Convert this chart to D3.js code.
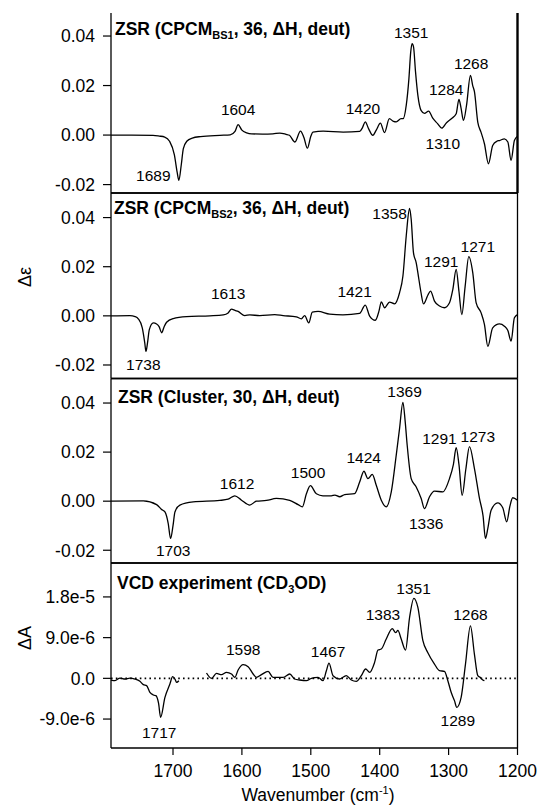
<!DOCTYPE html>
<html>
<head>
<meta charset="utf-8">
<script src="https://cdn.jsdelivr.net/npm/d3@7"></script>
<style>
  body { margin: 0; background: #fff; }
  svg { display: block; font-family: "Liberation Sans", Arial, sans-serif; }
</style>
</head>
<body>
<div id="chart"></div>
<script>
// ---- data ----
var xTicks = [1700, 1600, 1500, 1400, 1300, 1200];

var bs1W = [1790,1760,1729,1720,1712,1705,1698,1694,1691.5,1688,1685,1680,1672,1660,1632,1617,1610,1605.5,1600,1593,1586,1570,1555,1545,1536,1531,1523,1515,1510,1505,1500,1497,1482,1453,1429,1425,1421,1416,1410,1405,1399,1393,1386,1380,1376,1369,1366,1361.5,1357.6,1355,1353,1350.9,1348,1344.6,1340,1335,1329,1323,1316,1310,1303,1296,1289,1285,1282,1278.4,1274,1268.3,1265,1262.5,1257.6,1253,1248,1242.2,1236,1230,1226,1219,1214,1209.3,1204.5,1200];
var bs1D = [0,0,-0.0001,-0.0004,-0.0008,-0.0025,-0.008,-0.015,-0.0183,-0.012,-0.0055,-0.0025,-0.0012,-0.0006,-0.0001,0.0001,0.0015,0.0042,0.002,0.0009,0.0005,0.0004,0.0005,0.0008,0.0003,-0.0001,-0.0028,0.0016,-0.001,-0.0053,-0.0005,0.0012,0.0016,0.0012,0.0015,0.003,0.0053,0.0025,-0.0001,0.002,0.0048,0.001,0.0066,0.0055,0.0053,0.0066,0.0066,0.012,0.0228,0.0335,0.0369,0.0356,0.0255,0.016,0.01,0.0088,0.0097,0.0068,0.0046,0.0028,0.005,0.0066,0.0086,0.0144,0.011,0.0059,0.012,0.0241,0.02,0.0175,0.0051,0.0012,-0.0035,-0.0116,-0.0042,-0.0025,-0.0022,-0.0015,-0.0028,-0.0102,-0.0022,-0.0005];

var bs2W = [1790,1762.5,1755,1750.4,1744.6,1741,1739.3,1737,1734.4,1728.6,1723.8,1720,1716.5,1713,1709.3,1699.7,1680.3,1646.5,1627,1620,1615.1,1610,1605.5,1595.8,1588.6,1574,1552.3,1540.2,1521,1513.7,1508.9,1503,1497.8,1489.5,1472.6,1453.3,1429.2,1421,1414.6,1406.4,1401,1397.7,1392.9,1385.7,1378.4,1371.2,1366.3,1361.5,1356.7,1354.3,1351,1347,1343.1,1340,1336.4,1330,1326.2,1320.5,1313.2,1306,1298.7,1293.9,1289,1285,1280.8,1276,1270.7,1264.9,1260,1252.8,1248,1243.1,1236,1226.2,1219,1214,1209.3,1204.5,1200];
var bs2D = [0,0.0001,-0.0003,-0.0012,-0.0049,-0.011,-0.0145,-0.011,-0.0056,-0.0029,-0.0033,-0.0045,-0.0069,-0.0045,-0.0026,-0.0011,-0.0003,0,0.0004,0.0012,0.0027,0.0022,0.0018,0.0001,0.0004,0.0001,0.0005,0.0001,-0.0004,-0.0012,0.0001,-0.0029,0.0015,0.0018,0.0007,0.0004,0.001,0.0044,-0.0001,-0.0018,0.002,0.0057,0.0033,0.0056,0.0049,0.0094,0.0162,0.0325,0.0437,0.0393,0.0257,0.0216,0.0148,0.0094,0.0049,0.0085,0.0101,0.006,0.004,0.0033,0.0053,0.0107,0.0189,0.01,0.0005,0.012,0.0241,0.0175,0.0053,0.0012,-0.0035,-0.0124,-0.0049,-0.0033,-0.0042,-0.006,-0.0103,-0.0008,0.0005];

var clW = [1790,1743,1723.8,1716.5,1711.7,1707,1703.5,1700,1697.2,1690,1670.7,1632,1620,1610.3,1600.6,1588.6,1578.9,1564.4,1550,1530.6,1518.5,1512.2,1506.4,1500.6,1491.9,1482.3,1470.2,1465,1458.1,1450.9,1436.4,1429.1,1422.9,1417.1,1410.8,1405,1397.7,1390.5,1383.2,1376,1371.2,1366.3,1363,1360.1,1354.3,1347,1339.8,1335,1327.7,1320.5,1308.4,1298.7,1293,1289,1285,1280.3,1275,1269.7,1262.5,1255.2,1250,1246.5,1243,1238.3,1228.7,1221.4,1215.6,1211,1206.9,1200];
var clD = [0,0.0001,-0.0014,-0.0034,-0.0044,-0.009,-0.0152,-0.01,-0.0044,-0.0016,-0.0003,0.0003,0.0008,0.0022,0.0004,-0.0016,0,0.0003,0.0011,0.0003,-0.0014,-0.0023,0.003,0.0063,0.003,0.0022,0.0022,0.0025,0.0018,0.0027,0.0031,0.0078,0.0122,0.0092,0.0109,0.0065,0.0004,-0.0023,0.0038,0.0188,0.0296,0.0403,0.0324,0.0228,0.0092,0.0058,0.0011,-0.003,0.0018,0.0041,0.0038,0.0092,0.015,0.0218,0.015,0.0024,0.013,0.0222,0.0133,0.0011,-0.006,-0.0152,-0.011,-0.0037,-0.0007,-0.0027,-0.0084,-0.002,0.0014,0.0004];

// experimental spectrum, null marks the gap in the trace
var vcdW = [1790,1784.2,1777,1769.7,1762.5,1755.2,1748,1743.1,1738.3,1733.5,1728.6,1724.8,1721,1718,1711.7,1704.5,1700.6,1697.2,1694.8,1691.5,1670,
  1651.4,1644.1,1636.9,1629.6,1622.4,1615.1,1610.3,1605.5,1598.2,1591,1583.7,1578.9,1571.7,1562,1554.8,1547.5,1540.2,1530.6,1523.3,1516.1,1506.4,1499.2,1489.5,1482.3,1477.4,1473.6,1467.8,1458.1,1448.5,1441.2,1434,1426.7,1420.4,1414.6,1407.4,1402.5,1397.7,1390.5,1381.8,1376.9,1373.6,1368.8,1362.5,1356.7,1350.4,1344.6,1337.4,1330.1,1320.5,1313.2,1306,1301.1,1296.3,1291.5,1288.1,1281.8,1275.5,1268.3,1262.5,1257.6,1254.2,1250.4,1248];
var vcdA = [-0.37e-6,-0.52e-6,0.07e-6,-0.15e-6,0.07e-6,-0.15e-6,-0.66e-6,-1.40e-6,-1.62e-6,-3.09e-6,-3.68e-6,-3.83e-6,-5.5e-6,-8.6e-6,-4.2e-6,-1.25e-6,0.37e-6,-0.15e-6,-0.88e-6,-0.52e-6,null,
  1.18e-6,0,1.1e-6,0.81e-6,1.32e-6,0.96e-6,0.22e-6,1.84e-6,3.02e-6,2.58e-6,0.96e-6,0.22e-6,0.81e-6,1.55e-6,0.22e-6,0.22e-6,0.22e-6,0.96e-6,-0.15e-6,-0.37e-6,-0.52e-6,0,0.22e-6,-0.52e-6,1.69e-6,3.38e-6,0.59e-6,-0.15e-6,0.59e-6,-0.37e-6,-0.66e-6,0.59e-6,2.06e-6,1.32e-6,3.53e-6,6.26e-6,6.48e-6,8.69e-6,1.10e-5,1.01e-5,1.06e-5,8.69e-6,6.26e-6,1.34e-5,1.77e-5,1.57e-5,8.39e-6,5.67e-6,3.16e-6,1.69e-6,1.55e-6,-0.52e-6,-3.09e-6,-4.93e-6,-6.41e-6,-4.2e-6,3.16e-6,1.16e-5,5.3e-6,0.59e-6,0.22e-6,-0.37e-6,-0.52e-6];

// peak annotations: label, wavenumber at label centre, value at label centre
var bs1Peaks = [["1351",1354.3,0.0416],["1268",1267.3,0.0288],["1284",1303.5,0.0185],["1420",1424.3,0.0109],["1604",1605.5,0.0104],["1689",1728.6,-0.0163],["1310",1308.4,-0.0035]];
var bs2Peaks = [["1358",1385.7,0.0418],["1271",1257.6,0.0283],["1291",1310.8,0.0223],["1421",1436.4,0.0098],["1613",1620,0.009],["1738",1743.1,-0.0199]];
var clPeaks = [["1369",1363.9,0.0446],["1291",1313.2,0.0256],["1273",1257.6,0.0262],["1424",1423.3,0.0177],["1500",1504,0.0117],["1612",1607,0.0072],["1703",1699.7,-0.02],["1336",1332.5,-0.0091]];
var vcdPeaks = [["1351",1350.9,1.99e-5],["1268",1268.3,1.42e-5],["1383",1395.3,1.42e-5],["1467",1475,5.9e-6],["1598",1598.2,6.5e-6],["1717",1720,-1.19e-5],["1289",1286.6,-9.3e-6]];

var epsTicks = [-0.02, 0, 0.02, 0.04];
var epsTickLabels = ["-0.02", "0.00", "0.02", "0.04"];
var absTicks = [-9e-6, 0, 9e-6, 1.8e-5];
var absTickLabels = ["-9.0e-6", "0.0", "9.0e-6", "1.8e-5"];

// ---- layout ----
var width = 541, height = 805;
var left = 111, right = 517.5;

var svg = d3.select("#chart").append("svg")
  .attr("width", width)
  .attr("height", height);

var x = d3.scaleLinear().domain([1790, 1200]).range([left, right]);

var panels = [
  { w: bs1W, v: bs1D, peaks: bs1Peaks, top: 13, bottom: 193, dom: [-0.0234, 0.0493],
    ticks: epsTicks, tickLabels: epsTickLabels, title: ["ZSR (CPCM", "BS1", ", 36, \u0394H, deut)"], tx: 115, ty: 35, noTop: true, boldRight: true },
  { w: bs2W, v: bs2D, peaks: bs2Peaks, top: 193, bottom: 378.5, dom: [-0.0255, 0.05],
    ticks: epsTicks, tickLabels: epsTickLabels, title: ["ZSR (CPCM", "BS2", ", 36, \u0394H, deut)"], tx: 114, ty: 214 },
  { w: clW, v: clD, peaks: clPeaks, top: 378.5, bottom: 563, dom: [-0.0252, 0.05],
    ticks: epsTicks, tickLabels: epsTickLabels, title: ["ZSR (Cluster, 30, \u0394H, deut)"], tx: 118, ty: 403 },
  { w: vcdW, v: vcdA, peaks: vcdPeaks, top: 563, bottom: 748, dom: [-1.54e-5, 2.55e-5],
    ticks: absTicks, tickLabels: absTickLabels, title: ["VCD experiment (CD", "3", "OD)"], tx: 117, ty: 589, zeroLine: true, xAxis: true }
];

panels.forEach(function(p) {
  var y = d3.scaleLinear().domain(p.dom).range([p.bottom, p.top]);
  var g = svg.append("g");

  // frame
  var frame = g.append("g").attr("stroke", "#000").attr("stroke-width", 1.3).attr("fill", "none");
  frame.append("line").attr("x1", left).attr("x2", left).attr("y1", p.top).attr("y2", p.bottom);
  frame.append("line").attr("x1", left).attr("x2", right).attr("y1", p.bottom).attr("y2", p.bottom);
  frame.append("line").attr("x1", right).attr("x2", right).attr("y1", p.top).attr("y2", p.bottom)
    .attr("stroke-width", p.boldRight ? 2.4 : 1.3);
  if (!p.noTop)
    frame.append("line").attr("x1", left).attr("x2", right).attr("y1", p.top).attr("y2", p.top);

  // y ticks
  p.ticks.forEach(function(t, i) {
    g.append("line")
      .attr("x1", left - 8).attr("x2", left)
      .attr("y1", y(t)).attr("y2", y(t))
      .attr("stroke", "#000").attr("stroke-width", 1.2);
    g.append("text")
      .attr("x", left - 16).attr("y", y(t)).attr("dy", "0.36em")
      .attr("text-anchor", "end")
      .style("font-size", "17.5px")
      .text(p.tickLabels[i]);
  });

  if (p.zeroLine) {
    g.append("line")
      .attr("x1", left).attr("x2", right)
      .attr("y1", y(0)).attr("y2", y(0))
      .attr("stroke", "#000").attr("stroke-width", 1.6)
      .attr("stroke-dasharray", "1.6,3.2");
  }

  // spectrum
  var pts = p.w.map(function(w, i) { return [w, p.v[i]]; });
  var line = d3.line()
    .defined(function(d) { return d[1] !== null; })
    .x(function(d) { return x(d[0]); })
    .y(function(d) { return y(d[1]); })
    .curve(d3.curveMonotoneX);
  g.append("path")
    .datum(pts)
    .attr("d", line)
    .attr("fill", "none")
    .attr("stroke", "#000")
    .attr("stroke-width", 1.3)
    .attr("stroke-linejoin", "round");

  // peak labels
  g.selectAll(".peak")
    .data(p.peaks)
    .enter()
    .append("text")
    .attr("class", "peak")
    .attr("x", function(d) { return x(d[1]); })
    .attr("y", function(d) { return y(d[2]); })
    .attr("dy", "0.36em")
    .attr("text-anchor", "middle")
    .style("font-size", "15.5px")
    .text(function(d) { return d[0]; });

  // panel title (with subscript)
  var title = g.append("text")
    .attr("x", p.tx).attr("y", p.ty)
    .style("font-size", "17.5px")
    .style("font-weight", "bold");
  p.title.forEach(function(s, i) {
    var ts = title.append("tspan").text(s);
    if (i === 1) ts.attr("dy", 4).style("font-size", "11px");
    if (i === 2) ts.attr("dy", -4);
  });

  if (p.xAxis) {
    xTicks.forEach(function(t) {
      g.append("line")
        .attr("x1", x(t)).attr("x2", x(t))
        .attr("y1", p.bottom).attr("y2", p.bottom + 7)
        .attr("stroke", "#000").attr("stroke-width", 1.2);
      g.append("text")
        .attr("x", x(t)).attr("y", 777)
        .attr("text-anchor", "middle")
        .style("font-size", "17.5px")
        .text(t);
    });
  }
});

// axis titles
var xt = svg.append("text")
  .attr("x", 318).attr("y", 801)
  .attr("text-anchor", "middle")
  .style("font-size", "17.5px")
  .text("Wavenumber (cm");
xt.append("tspan").attr("dy", -7).style("font-size", "11px").text("-1");
xt.append("tspan").attr("dy", 7).text(")");

svg.append("text")
  .attr("transform", "translate(31,277) rotate(-90)")
  .attr("text-anchor", "middle")
  .style("font-size", "18px")
  .text("\u0394\u03b5");

svg.append("text")
  .attr("transform", "translate(31,638) rotate(-90)")
  .attr("text-anchor", "middle")
  .style("font-size", "18px")
  .text("\u0394A");
</script>
</body>
</html>
